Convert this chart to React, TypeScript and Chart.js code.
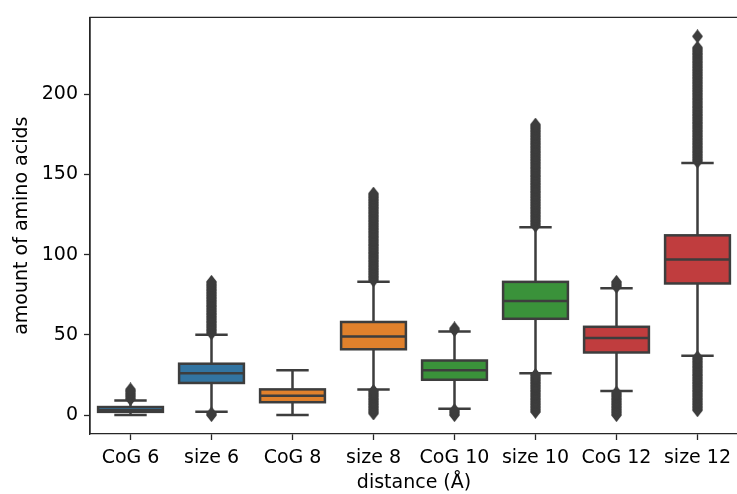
import React, { useEffect, useRef } from 'react';
import { Chart, registerables } from 'chart.js';

Chart.register(...registerables);

const categories = ['CoG 6', 'size 6', 'CoG 8', 'size 8', 'CoG 10', 'size 10', 'CoG 12', 'size 12'];
const q1 = [2, 20, 8, 41, 22, 60, 39, 82];
const medians = [3, 26, 12, 49, 28, 71, 48, 97];
const q3 = [5, 32, 16, 58, 34, 83, 55, 112];
const whiskerLow = [0, 2, 0, 16, 4, 26, 15, 37];
const whiskerHigh = [9, 50, 28, 83, 52, 117, 79, 157];

const outliersCoG6 = [10, 11, 12, 13, 14, 15, 16];
const outliersSize6 = [0, 1, 51, 52, 53, 54, 55, 56, 57, 58, 59, 60, 61, 62, 63, 64, 65, 66, 67, 68, 69, 70, 71, 72, 73, 74, 75, 76, 77, 78, 79, 80, 81, 82, 83];
const outliersCoG8: number[] = [];
const outliersSize8 = [1, 2, 3, 4, 5, 6, 7, 8, 9, 10, 11, 12, 13, 14, 15, 84, 85, 86, 87, 88, 89, 90, 91, 92, 93, 94, 95, 96, 97, 98, 99, 100, 101, 102, 103, 104, 105, 106, 107, 108, 109, 110, 111, 112, 113, 114, 115, 116, 117, 118, 119, 120, 121, 122, 123, 124, 125, 126, 127, 128, 129, 130, 131, 132, 133, 134, 135, 136, 137, 138];
const outliersCoG10 = [0, 1, 2, 3, 53, 54];
const outliersSize10 = [2, 3, 4, 5, 6, 7, 8, 9, 10, 11, 12, 13, 14, 15, 16, 17, 18, 19, 20, 21, 22, 23, 24, 25, 118, 119, 120, 121, 122, 123, 124, 125, 126, 127, 128, 129, 130, 131, 132, 133, 134, 135, 136, 137, 138, 139, 140, 141, 142, 143, 144, 145, 146, 147, 148, 149, 150, 151, 152, 153, 154, 155, 156, 157, 158, 159, 160, 161, 162, 163, 164, 165, 166, 167, 168, 169, 170, 171, 172, 173, 174, 175, 176, 177, 178, 179, 180, 181];
const outliersCoG12 = [0, 1, 2, 3, 4, 5, 6, 7, 8, 9, 10, 11, 12, 13, 14, 80, 81, 82, 83];
const outliersSize12 = [3, 4, 5, 6, 7, 8, 9, 10, 11, 12, 13, 14, 15, 16, 17, 18, 19, 20, 21, 22, 23, 24, 25, 26, 27, 28, 29, 30, 31, 32, 33, 34, 35, 36, 158, 159, 160, 161, 162, 163, 164, 165, 166, 167, 168, 169, 170, 171, 172, 173, 174, 175, 176, 177, 178, 179, 180, 181, 182, 183, 184, 185, 186, 187, 188, 189, 190, 191, 192, 193, 194, 195, 196, 197, 198, 199, 200, 201, 202, 203, 204, 205, 206, 207, 208, 209, 210, 211, 212, 213, 214, 215, 216, 217, 218, 219, 220, 221, 222, 223, 224, 225, 226, 227, 228, 229, 236];

const yTicks = [0, 50, 100, 150, 200];
const yMin = -11.8;
const yMax = 247.8;

const boxColors = ['#3274a1', '#3274a1', '#e1812c', '#e1812c', '#3a923a', '#3a923a', '#c03d3e', '#c03d3e'];
const LINE = '#3d3d3d';
const SPINE = '#262626';
const FONT = 'DejaVu Sans';

export default function App() {
  const ref = useRef<HTMLCanvasElement>(null);

  useEffect(() => {
    const canvas = ref.current;
    if (!canvas) return;

    const diamond = document.createElement('canvas');
    diamond.width = 11;
    diamond.height = 14;
    const g = diamond.getContext('2d')!;
    g.fillStyle = LINE;
    g.beginPath();
    g.moveTo(5.5, 0);
    g.lineTo(11, 7);
    g.lineTo(5.5, 14);
    g.lineTo(0, 7);
    g.closePath();
    g.fill();

    const allOutliers = [outliersCoG6, outliersSize6, outliersCoG8, outliersSize8, outliersCoG10, outliersSize10, outliersCoG12, outliersSize12];
    const outlierPoints: { x: string; y: number }[] = [];
    allOutliers.forEach((arr, i) => arr.forEach((v) => outlierPoints.push({ x: categories[i], y: v })));

    const boxPlugin = {
      id: 'boxParts',
      beforeDatasetsDraw(chart: any) {
        const { ctx, scales } = chart;
        const y = scales.y;
        const meta = chart.getDatasetMeta(0);
        ctx.save();
        ctx.strokeStyle = LINE;
        ctx.lineWidth = 2.5;
        ctx.lineCap = 'butt';
        categories.forEach((_, i) => {
          const bar = meta.data[i];
          if (!bar) return;
          const cx = bar.x;
          const hw = bar.width / 4;
          const yq3 = y.getPixelForValue(q3[i]);
          const yq1 = y.getPixelForValue(q1[i]);
          const yHi = y.getPixelForValue(whiskerHigh[i]);
          const yLo = y.getPixelForValue(whiskerLow[i]);
          ctx.beginPath();
          ctx.moveTo(cx, yq3);
          ctx.lineTo(cx, yHi);
          ctx.moveTo(cx, yq1);
          ctx.lineTo(cx, yLo);
          ctx.moveTo(cx - hw, yHi);
          ctx.lineTo(cx + hw, yHi);
          ctx.moveTo(cx - hw, yLo);
          ctx.lineTo(cx + hw, yLo);
          ctx.stroke();
        });
        ctx.restore();
      },
      afterDatasetDraw(chart: any, args: any) {
        if (args.index !== 0) return;
        const { ctx, scales } = chart;
        const y = scales.y;
        const meta = chart.getDatasetMeta(0);
        ctx.save();
        ctx.strokeStyle = LINE;
        ctx.lineWidth = 2.5;
        categories.forEach((_, i) => {
          const bar = meta.data[i];
          if (!bar) return;
          const cx = bar.x;
          const w = bar.width;
          const yq3 = y.getPixelForValue(q3[i]);
          const yq1 = y.getPixelForValue(q1[i]);
          const ym = y.getPixelForValue(medians[i]);
          ctx.strokeRect(cx - w / 2, yq3, w, yq1 - yq3);
          ctx.beginPath();
          ctx.moveTo(cx - w / 2, ym);
          ctx.lineTo(cx + w / 2, ym);
          ctx.stroke();
        });
        ctx.restore();
      },
      afterDraw(chart: any) {
        const { ctx, chartArea } = chart;
        ctx.save();
        ctx.strokeStyle = SPINE;
        ctx.lineWidth = 1.3;
        ctx.beginPath();
        ctx.moveTo(chartArea.left, chartArea.bottom);
        ctx.lineTo(chartArea.left, chartArea.top);
        ctx.lineTo(chartArea.right, chartArea.top);
        ctx.lineTo(chartArea.right, chartArea.bottom);
        ctx.stroke();
        ctx.restore();
      },
    };

    const chart = new Chart(canvas, {
      type: 'bar',
      data: {
        labels: categories,
        datasets: [
          {
            type: 'bar',
            data: q1.map((v, i) => [v, q3[i]]) as any,
            backgroundColor: boxColors,
            borderWidth: 0,
            barPercentage: 0.8,
            categoryPercentage: 1.0,
            order: 1,
          } as any,
          {
            type: 'scatter',
            data: outlierPoints as any,
            pointStyle: diamond as any,
            pointRadius: 5,
            showLine: false,
            order: 0,
          } as any,
        ],
      },
      options: {
        responsive: false,
        animation: false,
        devicePixelRatio: 1,
        layout: { padding: { top: 15, left: 0, right: 0, bottom: 0 } },
        plugins: { legend: { display: false }, tooltip: { enabled: false } },
        scales: {
          x: {
            type: 'category',
            offset: true,
            grid: { drawOnChartArea: false, offset: false, tickLength: 6, tickColor: SPINE, tickWidth: 1.3 },
            border: { display: true, color: SPINE, width: 1.3 },
            ticks: { color: '#000', font: { family: FONT, size: 19 }, padding: 7, maxRotation: 0, autoSkip: false },
            title: { display: true, text: 'distance (Å)', color: '#000', font: { family: FONT, size: 19 }, padding: { top: 0, bottom: 0 } },
            afterFit: (s: any) => { s.height = 60; },
          },
          y: {
            type: 'linear',
            min: yMin,
            max: yMax,
            grid: { drawOnChartArea: false, tickLength: 6, tickColor: SPINE, tickWidth: 1.3 },
            border: { display: true, color: SPINE, width: 1.3 },
            ticks: { color: '#000', font: { family: FONT, size: 19 }, padding: 6 },
            afterBuildTicks: (s: any) => { s.ticks = yTicks.map((v) => ({ value: v })); },
            title: { display: true, text: 'amount of amino acids', color: '#000', font: { family: FONT, size: 19 }, padding: { top: 11, bottom: 0 } },
            afterFit: (s: any) => { s.width = 90; },
          },
        },
      } as any,
      plugins: [boxPlugin],
    });

    return () => chart.destroy();
  }, []);

  return (
    <div style={{ position: 'absolute', left: 0, top: 0, width: 737, height: 494, overflow: 'hidden', background: '#fff' }}>
      <canvas ref={ref} width={744} height={494} style={{ width: 744, height: 494, display: 'block' }} />
    </div>
  );
}
